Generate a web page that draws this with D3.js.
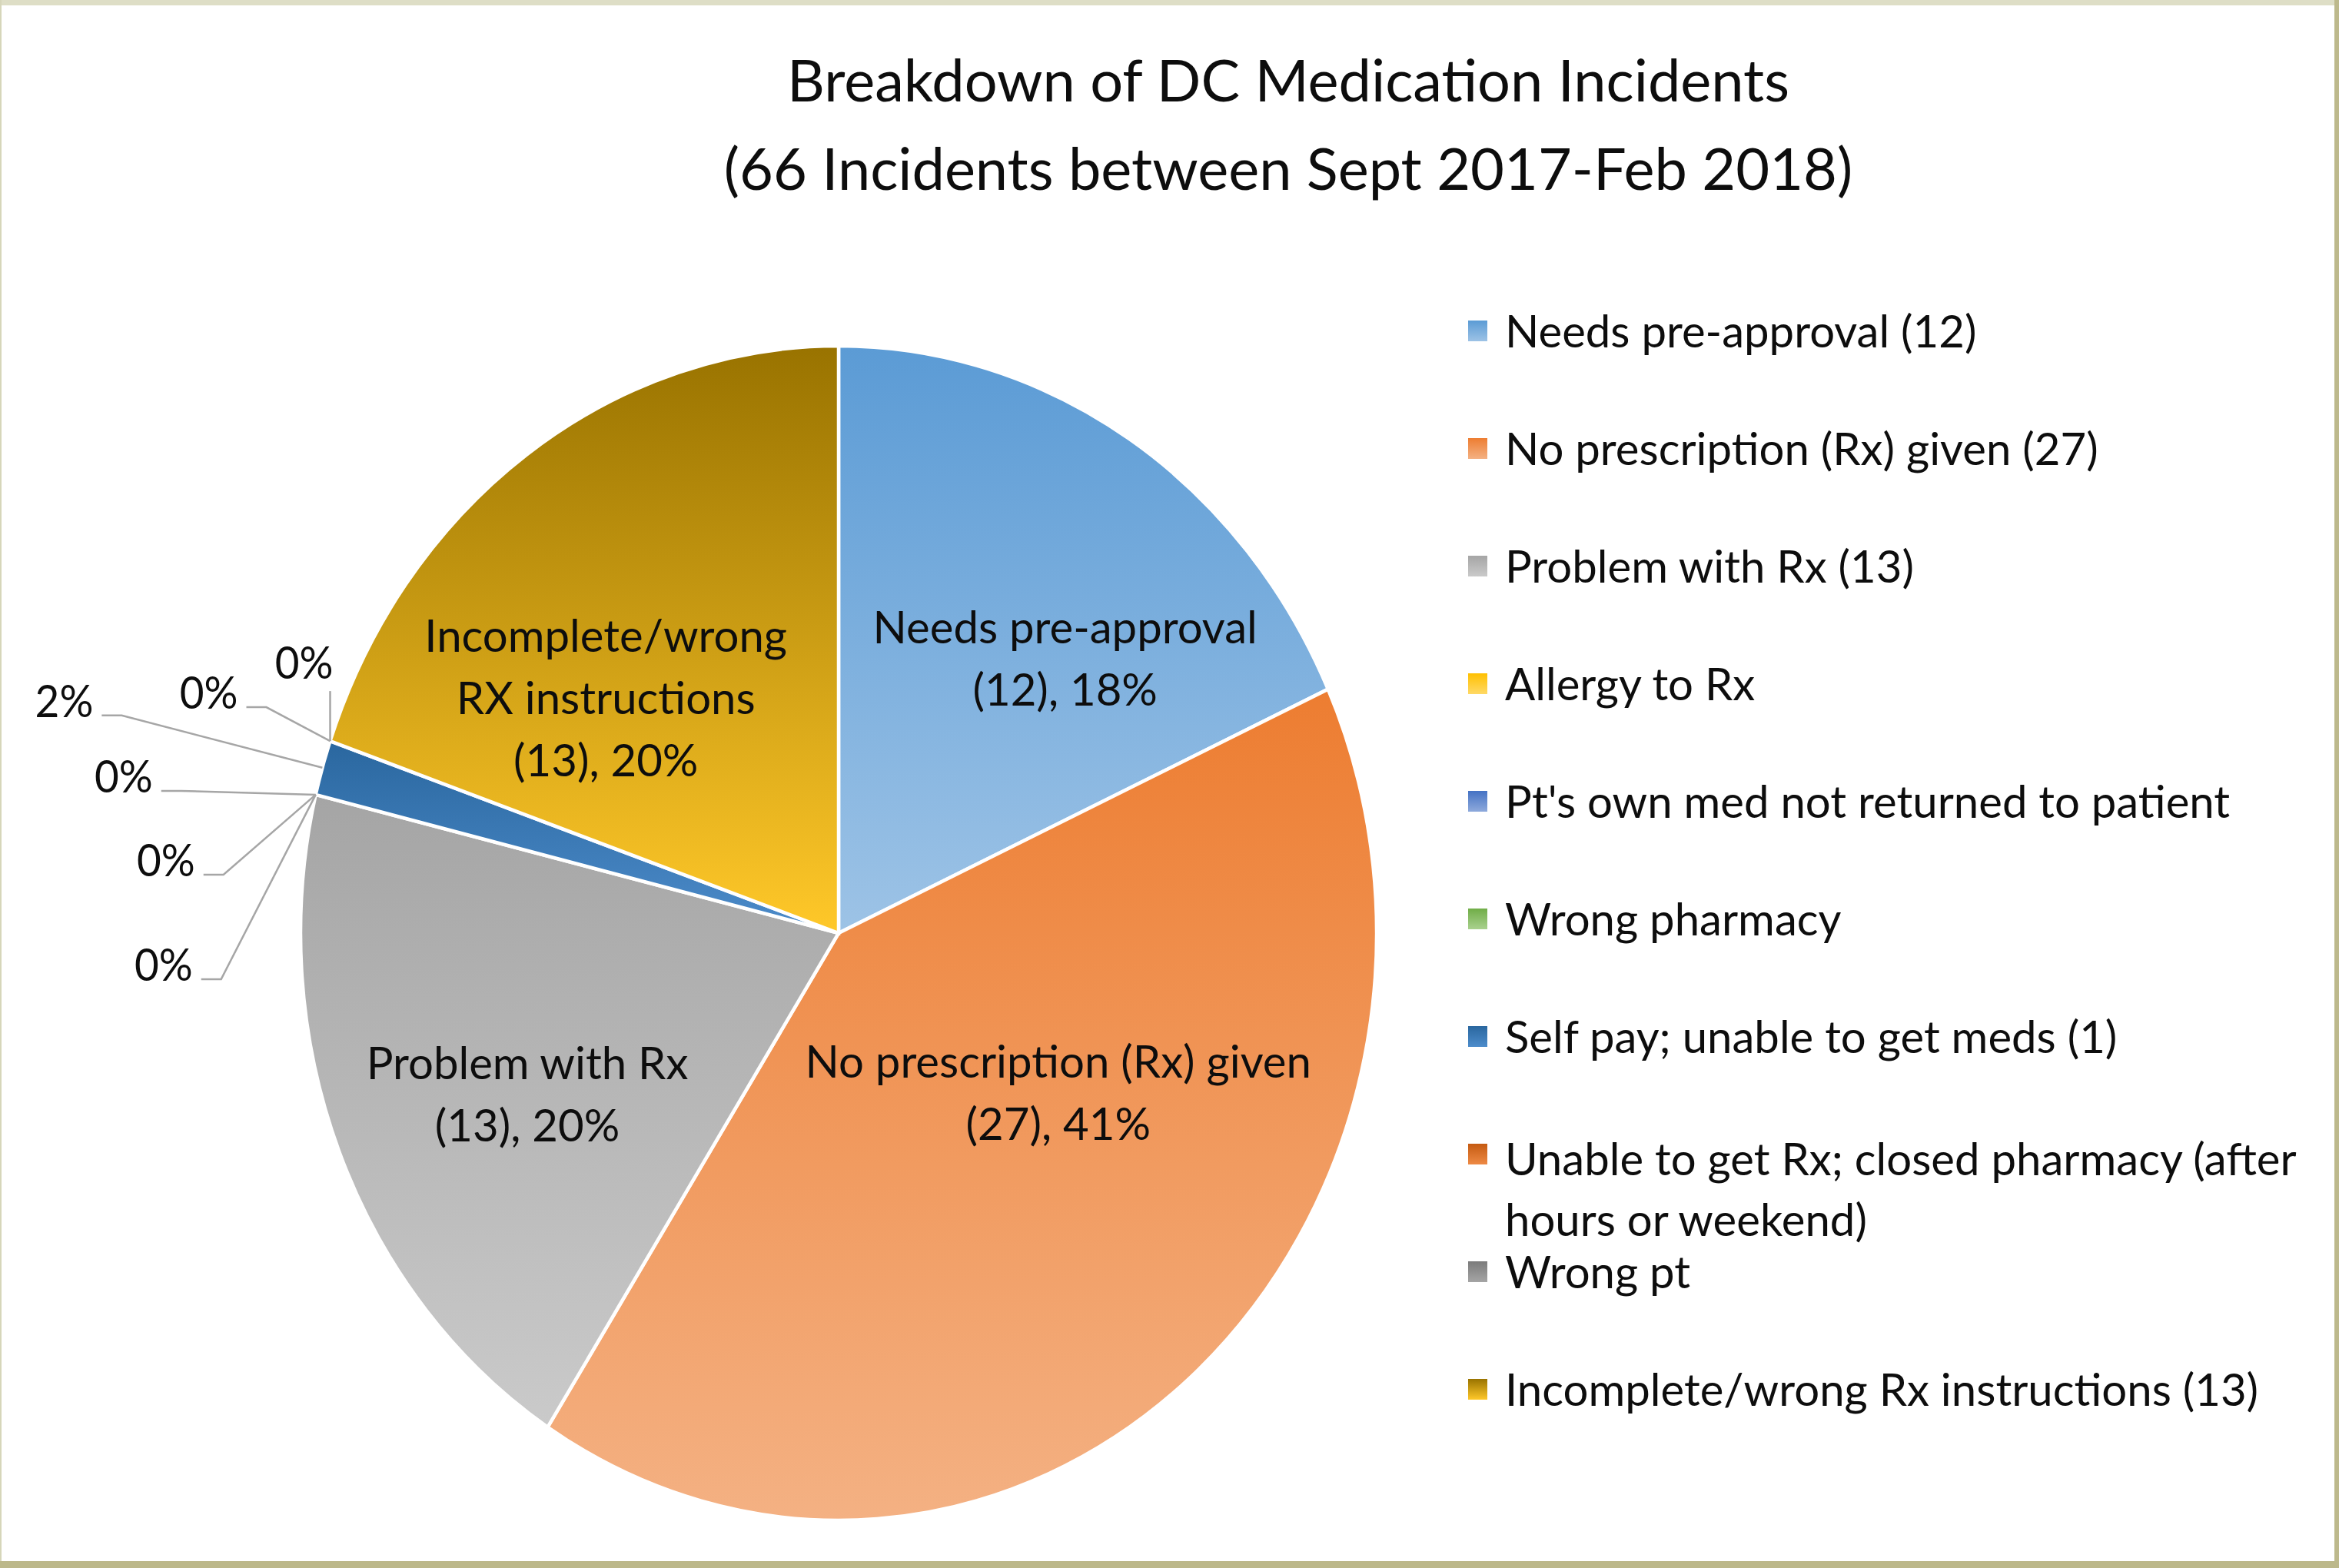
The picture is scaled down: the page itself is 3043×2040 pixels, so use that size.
<!DOCTYPE html>
<html><head><meta charset="utf-8">
<script src="https://cdn.jsdelivr.net/npm/d3@7"></script>
<style>html,body{margin:0;padding:0;background:#fff;overflow:hidden}</style>
</head><body><svg id="c" width="3043" height="2040"></svg>
<script>
// ---------- data ----------
const categories = ["Needs pre-approval","No prescription (Rx) given","Problem with Rx","Allergy to Rx","Pt's own med not returned to patient","Wrong pharmacy","Self pay; unable to get meds","Unable to get Rx; closed pharmacy (after hours or weekend)","Wrong pt","Incomplete/wrong Rx instructions"];
const counts = [12,27,13,0,0,0,1,0,0,13];
const legendLabels = ["Needs pre-approval (12)","No prescription (Rx) given (27)","Problem with Rx (13)","Allergy to Rx","Pt's own med not returned to patient","Wrong pharmacy","Self pay; unable to get meds (1)","Unable to get Rx; closed pharmacy (after hours or weekend)","Wrong pt","Incomplete/wrong Rx instructions (13)"];
const insideNames = [["Needs pre-approval"],["No prescription (Rx) given"],["Problem with Rx"],null,null,null,null,null,null,["Incomplete/wrong","RX instructions"]];
const titleLines = ["Breakdown of DC Medication Incidents","(66 Incidents between Sept 2017-Feb 2018)"];
// ---------- style ----------
const colorTop    = ["#5b9bd5","#ed7d31","#a5a5a5","#ffc000","#4472c4","#70ad47","#2a679f","#c55a11","#7b7b7b","#997300"];
const colorBottom = ["#9dc3e6","#f4b183","#cacaca","#ffd966","#8faadc","#a9d18e","#4d8ccb","#ee8a45","#a5a5a5","#ffc829"];
const FONT = "Lato, 'Open Sans', sans-serif";
const TEXT = "#0d0d0d";
const W = 3043, H = 2040;
const cx = 1091, cy = 1214, R = 700, ky = 764/700;
// inside label placement (angle offset deg, radius fraction)
const insidePlace = [[9.2,0.63],[-15.5,0.49],[-3.5,0.64],null,null,null,null,null,null,[-11.7,0.59]];
// outside label offset from slice edge point (text end x, baseline y)
const outsidePlace = [null,null,null,[-160,242],[-157,106],[-212,-3],[-298,-66],[-120,-42],[4,-81],null];

const svg = d3.select("#c");
// frame
svg.append("rect").attr("x",0).attr("y",0).attr("width",W).attr("height",H).attr("fill","#ffffff");
svg.append("rect").attr("x",0).attr("y",0).attr("width",W).attr("height",7).attr("fill","#dedec6");
svg.append("rect").attr("x",0).attr("y",0).attr("width",2).attr("height",H).attr("fill","#d6d6ba");
svg.append("rect").attr("x",W-6).attr("y",0).attr("width",6).attr("height",H).attr("fill","#bdb98c");
svg.append("rect").attr("x",0).attr("y",H-9).attr("width",W).attr("height",9).attr("fill","#bcb88a");

const defs = svg.append("defs");
categories.forEach((c,i)=>{
  const g = defs.append("linearGradient").attr("id","g"+i).attr("x1",0).attr("y1",0).attr("x2",0).attr("y2",1);
  g.append("stop").attr("offset",0).attr("stop-color",colorTop[i]);
  g.append("stop").attr("offset",1).attr("stop-color",colorBottom[i]);
});

const total = d3.sum(counts);
const pct = d3.format(".0%");
const data = categories.map((c,i)=>({name:c, value:counts[i], i}));
const pie = d3.pie().sort(null).value(d=>d.value).startAngle(0).endAngle(2*Math.PI);
const arcs = pie(data);
const arc = d3.arc().innerRadius(0).outerRadius(R);

const pg = svg.append("g").attr("transform",`translate(${cx},${cy}) scale(1,${ky})`);
pg.selectAll("path").data(arcs.filter(a=>a.data.value>0)).join("path")
  .attr("d",arc).attr("fill",a=>`url(#g${a.data.i})`)
  .attr("stroke","#fff").attr("stroke-width",4.5).attr("vector-effect","non-scaling-stroke");

function pt(angle, f){ return [cx + f*R*Math.sin(angle), cy - f*R*Math.cos(angle)*ky]; }

const LS = 59, FX_LABEL = 0.985, FX_OUT = 0.93, FX_LEG = 0.985, FX_TITLE = 1.01;

// inside labels
const LH = 81, CAP = 43;
arcs.forEach(a=>{
  const p = insidePlace[a.data.i]; if(!p) return;
  const th = (a.startAngle+a.endAngle)/2 + p[0]*Math.PI/180;
  const [x,y] = pt(th,p[1]);
  const lines = insideNames[a.data.i].concat([`(${a.data.value}), ${pct(a.data.value/total)}`]);
  const n = lines.length;
  const b0 = y - ((n-1)*LH + CAP)/2 + CAP;
  lines.forEach((t,k)=>{
    svg.append("text").attr("transform",`translate(${x},${b0+k*LH}) scale(${FX_LABEL},1)`)
      .attr("text-anchor","middle").attr("font-family",FONT).attr("font-size",LS).attr("fill",TEXT).text(t);
  });
});

// outside labels with leaders
arcs.forEach(a=>{
  const p = outsidePlace[a.data.i]; if(!p) return;
  const th = (a.startAngle+a.endAngle)/2;
  const [ex,ey] = pt(th,1);
  const tx = ex+p[0], ty = ey+p[1];
  svg.append("text").attr("transform",`translate(${tx},${ty}) scale(${FX_OUT},1)`)
    .attr("text-anchor","end").attr("font-family",FONT).attr("font-size",LS).attr("fill",TEXT).text(pct(a.data.value/total));
  let pts;
  if(Math.abs(p[0])<30) pts = [[ex,ty+16],[ex,ey]];
  else pts = [[tx+11,ty-2],[tx+37,ty-2],[ex,ey]];
  svg.append("path").attr("d",d3.line()(pts)).attr("fill","none").attr("stroke","#a6a6a6").attr("stroke-width",2.5);
});

// title
const titleBase = [132, 247];
titleLines.forEach((t,k)=>{
  svg.append("text").attr("transform",`translate(1676,${titleBase[k]}) scale(${FX_TITLE},1)`)
    .attr("text-anchor","middle").attr("font-family",FONT).attr("font-size",75).attr("fill",TEXT).text(t);
});

// legend
const legX = 1910, legY0 = 452, legStep = 153, maxW = 1060;
legendLabels.forEach((t,i)=>{
  const by = legY0 + i*legStep;
  svg.append("rect").attr("x",legX).attr("y",by-35).attr("width",25).attr("height",27).attr("fill",`url(#g${i})`);
  const words = t.split(" "); const lines=[]; let cur="";
  const probe = svg.append("text").attr("font-family",FONT).attr("font-size",LS);
  words.forEach(w=>{
    const test = cur? cur+" "+w : w;
    probe.text(test);
    if(probe.node().getComputedTextLength()*FX_LEG > maxW && cur){ lines.push(cur); cur=w; } else cur=test;
  });
  lines.push(cur); probe.remove();
  lines.forEach((l,k)=>{
    svg.append("text").attr("transform",`translate(${legX+48},${by + (lines.length>1?6:0) + k*79}) scale(${FX_LEG},1)`)
      .attr("font-family",FONT).attr("font-size",LS).attr("fill",TEXT).text(l);
  });
});
</script></body></html>
